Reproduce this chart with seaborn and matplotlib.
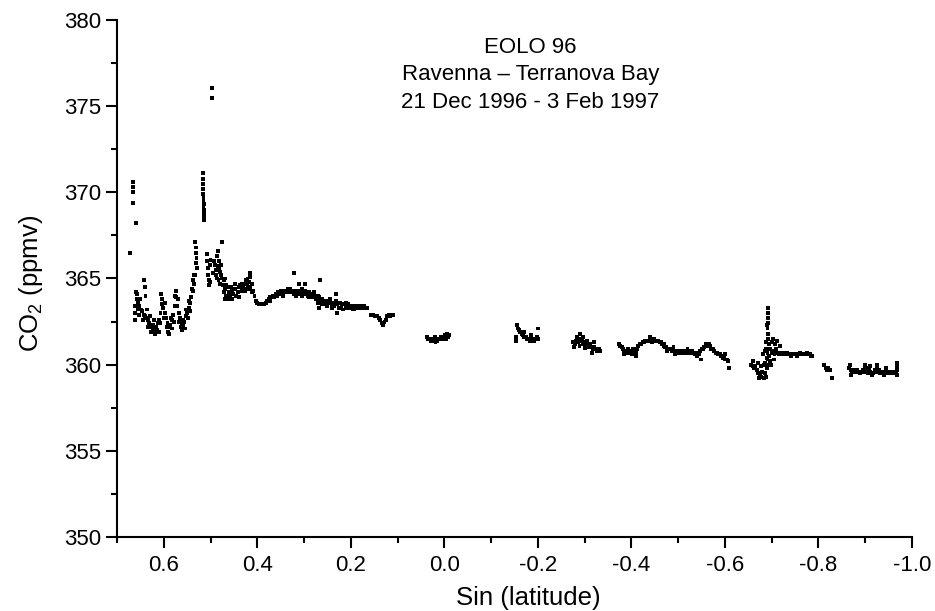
import numpy as np
import pandas as pd
import matplotlib
matplotlib.use("Agg")
import matplotlib.pyplot as plt
import seaborn as sns
from matplotlib.ticker import MultipleLocator

# ---- data (sin(latitude), CO2 ppmv) ----
x_a = [0.672, 0.666, 0.666, 0.666, 0.666, 0.659]
y_a = [366.5, 370.6, 370.3, 370.0, 369.4, 368.2]

x_b = [0.661, 0.658, 0.655, 0.652, 0.649, 0.646, 0.643, 0.640, 0.637, 0.634, 0.631, 0.628,
       0.625, 0.622, 0.619, 0.616, 0.613, 0.610, 0.607, 0.604, 0.601, 0.598, 0.595, 0.592,
       0.589, 0.586, 0.583, 0.580, 0.577, 0.574, 0.571, 0.568, 0.565, 0.562, 0.559, 0.556,
       0.553, 0.550, 0.547, 0.544, 0.541, 0.538, 0.536,
       0.662, 0.661, 0.659, 0.657, 0.656, 0.653, 0.650, 0.645, 0.642, 0.641, 0.639, 0.636,
       0.633, 0.630, 0.627, 0.624, 0.621, 0.618, 0.614, 0.611, 0.608, 0.605, 0.603, 0.600,
       0.597, 0.594, 0.591, 0.588, 0.585, 0.582, 0.579, 0.576, 0.573, 0.570, 0.567, 0.564,
       0.561, 0.558, 0.555, 0.552, 0.549, 0.546, 0.543, 0.540, 0.537, 0.535]
y_b = [363.0, 363.8, 363.6, 363.4, 363.2, 363.1, 362.9, 362.8, 362.7, 362.6, 362.4, 362.3,
       362.2, 362.3, 362.1, 362.2, 362.4, 362.6, 363.0, 363.5, 363.3, 363.0, 362.7, 362.4,
       362.2, 362.3, 362.6, 362.9, 363.4, 363.9, 363.4, 363.0, 362.7, 362.4, 362.3, 362.5,
       362.8, 363.0, 363.3, 363.6, 363.9, 364.3, 364.7,
       362.6, 363.4, 364.2, 364.1, 363.2, 362.9, 363.8, 362.6, 364.9, 364.5, 364.0, 363.2,
       362.2, 362.8, 361.9, 362.0, 362.6, 361.8, 362.0, 361.9, 362.4, 364.1, 363.8, 362.7,
       363.6, 362.2, 361.9, 361.8, 362.7, 362.1, 362.5, 364.0, 364.3, 363.8, 362.5, 362.2,
       362.0, 362.6, 362.1, 363.2, 362.7, 363.7, 363.1, 364.4, 364.9, 365.2]

x_c = [0.533, 0.532, 0.531, 0.530, 0.532, 0.529, 0.534,
       0.517, 0.517, 0.516, 0.516, 0.516, 0.515, 0.515, 0.515, 0.514, 0.514, 0.514, 0.513, 0.513,
       0.497, 0.497,
       0.508, 0.507, 0.506, 0.505, 0.504, 0.503, 0.502, 0.501, 0.500,
       0.494, 0.492, 0.490, 0.489, 0.488, 0.487, 0.486, 0.485, 0.484, 0.483, 0.482, 0.481,
       0.480, 0.479, 0.478, 0.477, 0.476, 0.475, 0.474]
y_c = [367.1, 366.8, 366.5, 366.2, 365.9, 365.6, 365.2,
       371.1, 370.8, 370.5, 370.2, 369.9, 369.7, 369.5, 369.2, 369.0, 368.8, 368.6, 368.4, 369.3,
       376.05, 375.5,
       366.4, 366.0, 365.6, 365.2, 364.9, 364.6, 365.8, 364.8, 366.1,
       365.3, 366.0, 365.8, 365.2, 365.5, 366.3, 365.0, 366.6, 365.7, 364.9, 365.6, 366.0,
       365.4, 364.7, 365.8, 365.2, 367.1, 365.0, 364.6]

x_d = [0.472, 0.469, 0.466, 0.463, 0.460, 0.457, 0.454, 0.451, 0.448, 0.445, 0.442, 0.439,
       0.436, 0.433, 0.430, 0.427, 0.424, 0.421, 0.418, 0.415, 0.412, 0.409, 0.406, 0.403,
       0.472, 0.469, 0.466, 0.463, 0.460, 0.454, 0.427, 0.421, 0.418, 0.415, 0.415,
       0.470, 0.458, 0.448, 0.440, 0.432, 0.425, 0.411]
y_d = [364.9, 364.4, 364.0, 363.8, 364.2, 364.5, 364.3, 364.1, 364.4, 364.0, 364.2, 364.5,
       364.6, 364.3, 364.5, 364.7, 364.9, 364.6, 364.8, 365.1, 364.7, 364.3, 364.0, 363.7,
       364.2, 365.0, 364.6, 364.5, 363.9, 363.8, 364.3, 365.0, 364.4, 364.5, 365.3,
       363.8, 364.0, 364.7, 363.9, 364.7, 364.4, 364.2]

x_e = [0.400, 0.397, 0.394, 0.391, 0.388, 0.385, 0.382, 0.379, 0.376, 0.373, 0.370, 0.367,
       0.364, 0.361, 0.358, 0.355, 0.352, 0.349, 0.346, 0.343, 0.340, 0.337, 0.334, 0.331,
       0.328, 0.325, 0.322, 0.319, 0.316, 0.313, 0.310, 0.307, 0.304, 0.301, 0.298, 0.295,
       0.292, 0.289, 0.286, 0.283, 0.280, 0.277, 0.274, 0.271, 0.268, 0.265, 0.262, 0.259,
       0.256, 0.253, 0.250, 0.247, 0.244, 0.241, 0.238, 0.235, 0.232, 0.229, 0.226, 0.223,
       0.220, 0.217, 0.214, 0.211, 0.208, 0.205, 0.202, 0.199, 0.196, 0.193, 0.190, 0.187,
       0.184, 0.181, 0.178, 0.175, 0.172, 0.169, 0.166,
       0.156, 0.152, 0.148, 0.144, 0.140, 0.137, 0.134, 0.131, 0.128, 0.125, 0.122, 0.119,
       0.116, 0.113, 0.110,
       0.373, 0.322, 0.310, 0.298, 0.271, 0.268, 0.265, 0.232, 0.229,
       0.345, 0.335, 0.318, 0.305, 0.290, 0.278, 0.262, 0.250, 0.240, 0.222, 0.210, 0.195]
y_e = [363.6, 363.5, 363.5, 363.5, 363.5, 363.5, 363.6, 363.7, 363.8, 363.7, 363.9, 364.0,
       363.9, 364.1, 364.0, 364.2, 364.1, 364.3, 364.2, 364.3, 364.2, 364.3, 364.2, 364.4,
       364.2, 364.3, 364.1, 364.3, 364.2, 364.1, 364.3, 364.2, 364.0, 364.2, 364.3, 364.1,
       364.0, 364.2, 364.0, 364.1, 363.9, 364.0, 363.8, 363.6, 363.9, 363.7, 363.8, 363.6,
       363.5, 363.7, 363.4, 363.6, 363.8, 363.5, 363.6, 363.4, 363.7, 363.5, 363.3, 363.6,
       363.4, 363.2, 363.5, 363.4, 363.3, 363.5, 363.4, 363.3, 363.4, 363.2, 363.4, 363.3,
       363.4, 363.4, 363.3, 363.4, 363.4, 363.3, 363.3,
       362.9, 362.9, 362.8, 362.8, 362.7, 362.6, 362.4, 362.3, 362.5, 362.6, 362.8, 362.9,
       362.8, 362.9, 362.9,
       363.9, 365.3, 364.7, 364.7, 364.0, 363.3, 364.9, 364.1, 363.0,
       364.0, 364.4, 364.0, 364.4, 363.9, 364.2, 363.5, 363.7, 363.3, 363.3, 363.6, 363.2]

x_f = [0.037, 0.034, 0.031, 0.028, 0.025, 0.022, 0.019, 0.016, 0.013, 0.010, 0.007, 0.004,
       0.001, -0.002, -0.005, -0.008, -0.011, 0.020, -0.004]
y_f = [361.6, 361.5, 361.5, 361.4, 361.5, 361.4, 361.3, 361.4, 361.5, 361.5, 361.6, 361.5,
       361.6, 361.7, 361.8, 361.6, 361.7, 361.6, 361.5]

x_g = [-0.156, -0.158, -0.160, -0.162, -0.165, -0.168, -0.171, -0.174, -0.177, -0.180,
       -0.183, -0.186, -0.189, -0.192, -0.195, -0.198, -0.201,
       -0.154, -0.153, -0.200, -0.170, -0.185]
y_g = [362.3, 362.1, 362.0, 361.9, 361.8, 361.7, 361.6, 361.6, 361.5, 361.5,
       361.4, 361.5, 361.5, 361.4, 361.5, 361.6, 361.5,
       361.4, 361.6, 362.1, 361.9, 361.7]

x_h = [-0.276, -0.279, -0.282, -0.285, -0.288, -0.291, -0.294, -0.297, -0.300, -0.303,
       -0.306, -0.309, -0.312, -0.315, -0.318, -0.321, -0.324, -0.327, -0.330, -0.333,
       -0.278, -0.283, -0.289, -0.296, -0.300, -0.305, -0.315, -0.320]
y_h = [361.3, 361.2, 361.4, 361.3, 361.5, 361.8, 361.4, 361.2, 361.3, 361.2,
       361.1, 361.0, 361.2, 361.0, 360.9, 361.0, 360.9, 360.8, 360.9, 360.8,
       361.0, 361.6, 361.1, 361.6, 360.95, 361.4, 360.7, 361.3]

x_i = [-0.373, -0.376, -0.379, -0.382, -0.385, -0.388, -0.391, -0.394, -0.397, -0.400,
       -0.403, -0.406, -0.409, -0.412, -0.415, -0.418, -0.421, -0.424, -0.427, -0.430,
       -0.433, -0.436, -0.439, -0.442, -0.445, -0.448, -0.451, -0.454, -0.457, -0.460,
       -0.463, -0.466, -0.469, -0.472, -0.475, -0.478, -0.481, -0.484, -0.487, -0.490,
       -0.493, -0.496, -0.499, -0.502, -0.505, -0.508, -0.511, -0.514, -0.517, -0.520,
       -0.523, -0.526, -0.529, -0.532, -0.535, -0.538, -0.541, -0.544, -0.547, -0.550,
       -0.553, -0.556, -0.559, -0.562, -0.565, -0.568, -0.571, -0.574, -0.577, -0.580,
       -0.583, -0.586, -0.589, -0.592, -0.595, -0.598, -0.601, -0.604, -0.607,
       -0.385, -0.392, -0.402, -0.410, -0.440, -0.445, -0.470, -0.477, -0.490, -0.493,
       -0.520, -0.540, -0.548, -0.560, -0.600, -0.608]
y_i = [361.2, 361.1, 361.0, 360.9, 360.8, 360.7, 360.7, 360.75, 360.7, 360.8,
       360.9, 360.8, 360.7, 360.9, 361.1, 361.2, 361.2, 361.3, 361.3, 361.4,
       361.4, 361.4, 361.5, 361.5, 361.5, 361.5, 361.4, 361.4, 361.4, 361.3,
       361.3, 361.2, 361.1, 361.0, 361.0, 360.9, 360.9, 360.9, 360.8, 360.8,
       360.8, 360.8, 360.7, 360.8, 360.7, 360.8, 360.7, 360.8, 360.7, 360.7,
       360.8, 360.7, 360.8, 360.7, 360.6, 360.7, 360.7, 360.6, 360.8, 360.9,
       360.9, 361.0, 361.1, 361.2, 361.2, 361.1, 360.9, 360.9, 360.8, 360.7,
       360.7, 360.6, 360.6, 360.5, 360.4, 360.4, 360.3, 360.3, 360.2,
       360.6, 360.9, 360.6, 360.5, 361.6, 361.3, 361.2, 360.8, 361.0, 360.6,
       360.9, 360.5, 360.3, 361.2, 360.6, 359.8]

x_j = [-0.656, -0.659, -0.662, -0.665, -0.668, -0.671, -0.674, -0.677, -0.680, -0.683,
       -0.686, -0.689, -0.692, -0.660, -0.670, -0.678, -0.684, -0.688, -0.691, -0.672,
       -0.692, -0.692, -0.692, -0.693, -0.691, -0.692, -0.693, -0.690, -0.688, -0.694,
       -0.682, -0.685, -0.688, -0.691, -0.694, -0.697, -0.700, -0.703, -0.706, -0.709,
       -0.712, -0.715, -0.718, -0.721, -0.724, -0.727, -0.730, -0.733, -0.736, -0.739,
       -0.742, -0.745, -0.748, -0.751, -0.754, -0.757, -0.760, -0.763, -0.766, -0.769,
       -0.772, -0.775, -0.778, -0.781, -0.784, -0.787,
       -0.700, -0.703, -0.708, -0.712, -0.717, -0.696, -0.699, -0.705, -0.690, -0.686]
y_j = [360.0, 359.9, 359.8, 359.9, 359.7, 359.5, 359.4, 359.3, 359.6, 359.2,
       359.5, 359.8, 360.0, 360.2, 360.1, 359.9, 360.0, 359.3, 360.3, 359.2,
       363.3, 363.0, 362.7, 362.4, 362.1, 361.8, 361.5, 362.3, 361.3, 361.2,
       360.6, 360.8, 360.9, 360.7, 360.5, 360.9, 360.7, 360.8, 360.6, 360.9,
       360.7, 360.6, 360.7, 360.6, 360.7, 360.6, 360.6, 360.7, 360.6, 360.6,
       360.5, 360.6, 360.6, 360.6, 360.5, 360.6, 360.7, 360.6, 360.6, 360.6,
       360.6, 360.7, 360.6, 360.6, 360.5, 360.5,
       361.3, 361.5, 361.2, 361.4, 361.1, 360.2, 360.0, 360.3, 360.4, 360.1]

x_k = [-0.812, -0.815, -0.818, -0.821, -0.825, -0.828]
y_k = [360.0, 359.8, 359.7, 359.8, 359.7, 359.2]

x_l = [-0.866, -0.868, -0.870, -0.872, -0.875, -0.878, -0.880, -0.883, -0.886, -0.889,
       -0.893, -0.896, -0.899, -0.902, -0.905, -0.908, -0.911, -0.914, -0.917, -0.920,
       -0.923, -0.926, -0.929, -0.932, -0.935, -0.938, -0.941, -0.944, -0.947, -0.950,
       -0.953, -0.956, -0.959, -0.962, -0.965, -0.967, -0.968, -0.968, -0.968, -0.869,
       -0.900, -0.910, -0.925, -0.945]
y_l = [359.8, 360.0, 359.7, 359.6, 359.6, 359.7, 359.6, 359.7, 359.6, 359.5,
       359.6, 359.7, 359.8, 359.6, 359.5, 359.8, 359.6, 359.4, 359.5, 359.7,
       359.6, 359.8, 359.7, 359.5, 359.6, 359.5, 359.4, 359.6, 359.5, 359.6,
       359.5, 359.6, 359.5, 359.6, 359.5, 359.9, 360.1, 359.7, 359.4, 359.4,
       360.0, 359.9, 360.0, 359.8]

x_ticks = [0.6, 0.4, 0.2, 0.0, -0.2, -0.4, -0.6, -0.8, -1.0]
y_ticks = [350, 355, 360, 365, 370, 375, 380]
title_lines = ["EOLO 96", "Ravenna \u2013 Terranova Bay", "21 Dec 1996 - 3 Feb 1997"]

xs = x_a + x_b + x_c + x_d + x_e + x_f + x_g + x_h + x_i + x_j + x_k + x_l
ys = y_a + y_b + y_c + y_d + y_e + y_f + y_g + y_h + y_i + y_j + y_k + y_l
df = pd.DataFrame({"sinlat": xs, "co2": ys})

sns.set_style("ticks")
plt.rcParams["font.family"] = ["Liberation Sans", "DejaVu Sans"]
plt.rcParams["mathtext.fontset"] = "custom"
plt.rcParams["mathtext.rm"] = "Liberation Sans"
plt.rcParams["mathtext.it"] = "Liberation Sans:italic"

fig = plt.figure(figsize=(9.35, 6.11), dpi=100)
ax = fig.add_axes([117 / 935, 1 - 537 / 611, (912 - 117) / 935, (537 - 20) / 611])

sns.scatterplot(data=df, x="sinlat", y="co2", ax=ax, marker="s", s=8,
                color="black", edgecolor="none", linewidth=0)

ax.set_xlim(0.7, -1.0)
ax.set_ylim(350, 380)
ax.set_xticks(x_ticks)
ax.set_xticklabels([f"{v:.1f}" for v in x_ticks])
ax.set_yticks(y_ticks)
ax.xaxis.set_minor_locator(MultipleLocator(0.1))
ax.yaxis.set_minor_locator(MultipleLocator(2.5))
sns.despine(ax=ax)
for s in ["left", "bottom"]:
    ax.spines[s].set_linewidth(1.5)
    ax.spines[s].set_color("black")
ax.tick_params(which="major", length=8, width=1.5, color="black", labelsize=16,
               labelcolor="black", direction="out")
ax.tick_params(which="minor", length=4, width=1.5, color="black", direction="out")
ax.tick_params(axis="x", which="major", pad=5)
ax.tick_params(axis="y", which="major", pad=3)

ax.set_xlabel("Sin (latitude)", fontsize=18.5, color="black")
ax.set_ylabel("CO$_2$ (ppmv)", fontsize=18.5, color="black")
ax.xaxis.set_label_coords(0.518, -0.095)
ax.yaxis.set_label_coords(-0.090, 0.49)

ax.text(0.52, 0.967, "\n".join(title_lines), transform=ax.transAxes,
        ha="center", va="top", fontsize=16, color="black", linespacing=1.4)

fig.savefig("out.png", dpi=100)
